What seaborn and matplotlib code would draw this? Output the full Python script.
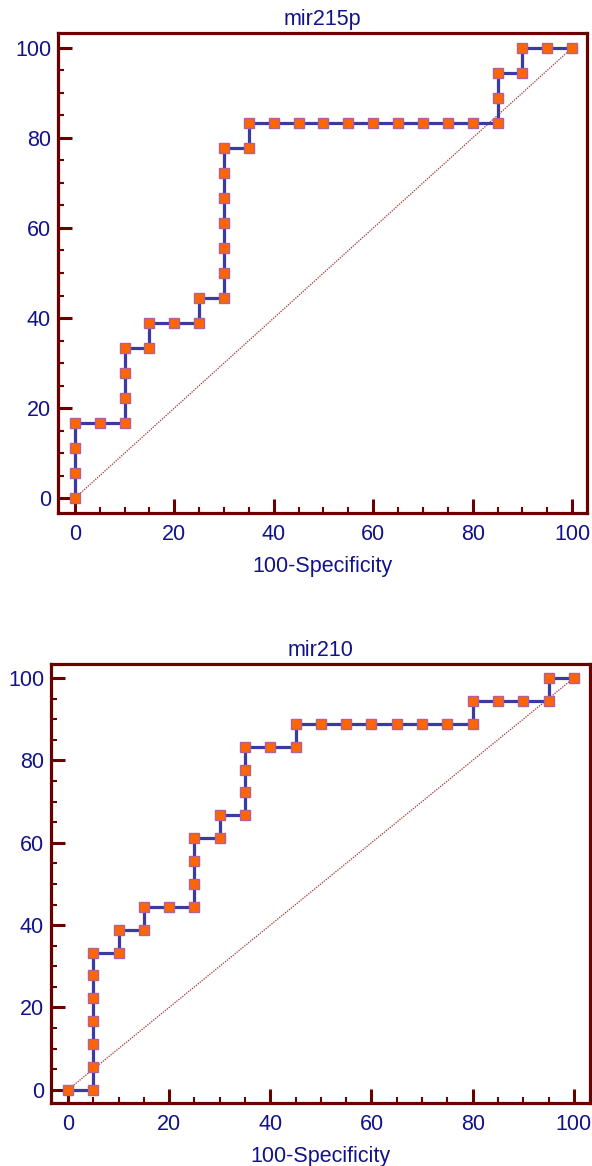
import matplotlib
matplotlib.use("Agg")
import matplotlib.pyplot as plt
from matplotlib.ticker import MultipleLocator
import seaborn as sns
import pandas as pd

# ---- data ----
titles = ["mir215p", "mir210"]
xlabel = "100-Specificity"

mir215p_x = [0, 0, 0, 0, 5, 10, 10, 10, 10, 15, 15, 20, 25, 25, 30, 30, 30, 30, 30, 30, 30,
             35, 35, 40, 45, 50, 55, 60, 65, 70, 75, 80, 85, 85, 85, 90, 90, 95, 100]
mir215p_y = [0, 5.56, 11.11, 16.67, 16.67, 16.67, 22.22, 27.78, 33.33, 33.33, 38.89, 38.89,
             38.89, 44.44, 44.44, 50.0, 55.56, 61.11, 66.67, 72.22, 77.78, 77.78, 83.33, 83.33,
             83.33, 83.33, 83.33, 83.33, 83.33, 83.33, 83.33, 83.33, 83.33, 88.89, 94.44, 94.44,
             100, 100, 100]

mir210_x = [0, 5, 5, 5, 5, 5, 5, 5, 10, 10, 15, 15, 20, 25, 25, 25, 25, 30, 30, 35, 35, 35, 35,
            40, 45, 45, 50, 55, 60, 65, 70, 75, 80, 80, 85, 90, 95, 95, 100]
mir210_y = [0, 0, 5.56, 11.11, 16.67, 22.22, 27.78, 33.33, 33.33, 38.89, 38.89, 44.44, 44.44,
            44.44, 50.0, 55.56, 61.11, 61.11, 66.67, 66.67, 72.22, 77.78, 83.33, 83.33, 83.33,
            88.89, 88.89, 88.89, 88.89, 88.89, 88.89, 88.89, 88.89, 94.44, 94.44, 94.44, 94.44,
            100, 100]

diag = [0, 100]
ticks = [0, 20, 40, 60, 80, 100]

# ---- style ----
sns.set_theme(style="white")
plt.rcParams['font.family'] = ['Liberation Sans', 'DejaVu Sans']

spine_c = "#6b0000"
text_c = "#12128a"
line_c = "#3a3aa0"
face_c = "#ff6600"
edge_c = "#b0609a"

fig = plt.figure(figsize=(5.92, 11.66), dpi=100)
ax1 = fig.add_axes([58/592, 1-513/1166, (587-58)/592, (513-33)/1166])
ax2 = fig.add_axes([51/592, 1-1103/1166, (590-51)/592, (1103-664)/1166])

datasets = [(ax1, mir215p_x, mir215p_y, titles[0], (-3.4, 103.0), (-3.3, 103.3)),
            (ax2, mir210_x, mir210_y, titles[1], (-3.35, 103.2), (-3.2, 103.4))]

for ax, xs, ys, title, xl, yl in datasets:
    sns.lineplot(x=diag, y=diag, ax=ax, color="#a03030", lw=0.9,
                 linestyle=(0, (1, 1)), zorder=2)
    df = pd.DataFrame({"x": xs, "y": ys})
    sns.lineplot(data=df, x="x", y="y", ax=ax, sort=False, estimator=None,
                 color=line_c, lw=2.3, marker="s", markersize=7.2,
                 markerfacecolor=face_c, markeredgecolor=edge_c,
                 markeredgewidth=1.0, zorder=3)
    ax.set_xlim(*xl)
    ax.set_ylim(*yl)
    ax.set_xticks(ticks)
    ax.set_yticks(ticks)
    ax.xaxis.set_minor_locator(MultipleLocator(5))
    ax.yaxis.set_minor_locator(MultipleLocator(5))
    ax.tick_params(axis="both", which="major", direction="in", length=10, width=2.2,
                   color=spine_c, labelcolor=text_c, labelsize=15.5)
    ax.tick_params(axis="both", which="minor", direction="in", length=4.5, width=1.5,
                   color=spine_c)
    ax.tick_params(axis="x", which="major", pad=8, bottom=True, top=False)
    ax.tick_params(axis="y", which="major", pad=5, left=True, right=False)
    ax.tick_params(axis="x", which="minor", bottom=True, top=False)
    ax.tick_params(axis="y", which="minor", left=True, right=False)
    for s in ax.spines.values():
        s.set_color(spine_c)
        s.set_linewidth(2.3)
        s.set_visible(True)
    ax.set_xlabel(xlabel, color=text_c, fontsize=15.5, labelpad=8)
    ax.set_ylabel("")
    ax.set_title(title, color=text_c, fontsize=15.5, pad=6)
    ax.grid(False)

fig.savefig("out.png", dpi=100)
